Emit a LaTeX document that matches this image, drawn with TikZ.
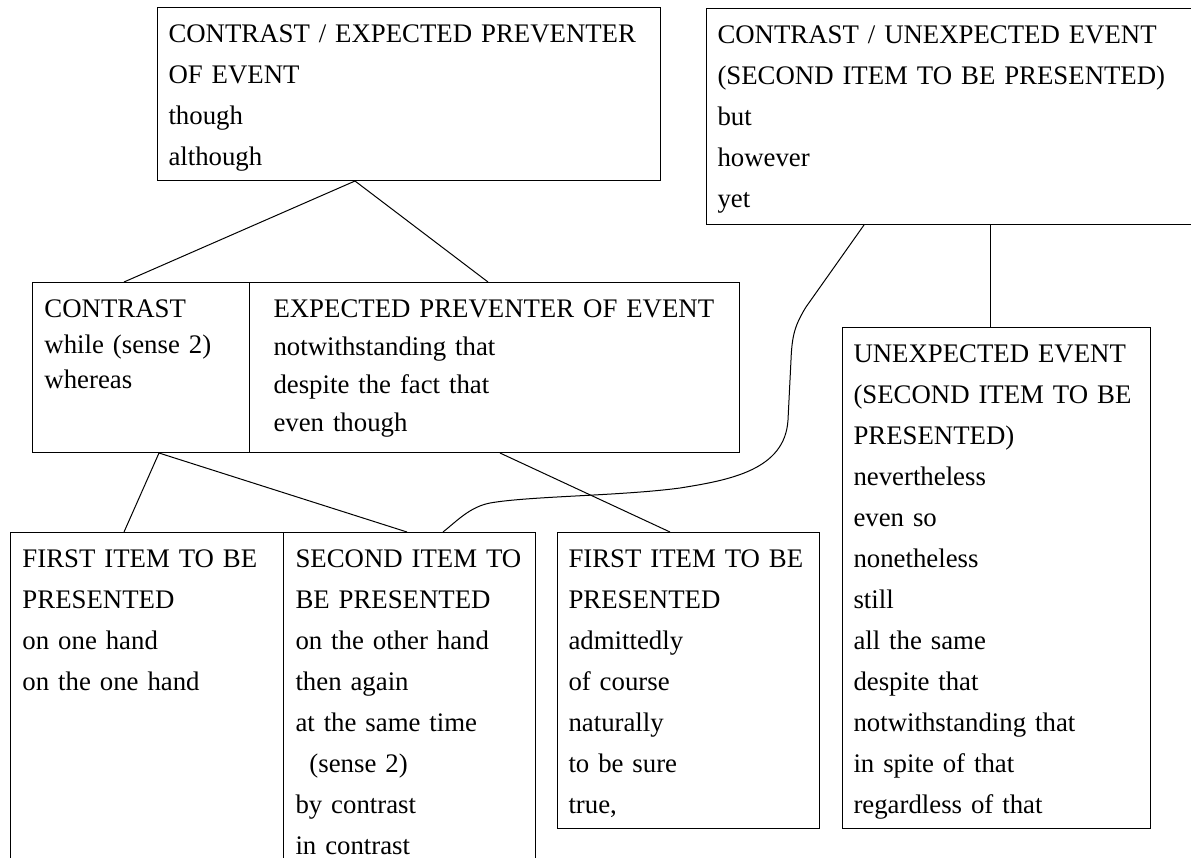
\documentclass[tikz,border=0pt]{standalone}
\usepackage{fontspec}
\setmainfont{Liberation Serif}
\tikzset{
  wbox/.style={draw, line width=0.5pt, anchor=north west, inner sep=0pt,
    font=\fontsize{13.4}{20.5}\selectfont, text height=17.5pt,
    execute at begin node={\leftskip=#1\relax}},
  wbox/.default=5.5pt,
  link/.style={line width=0.5pt}
}
\begin{document}
\begin{tikzpicture}[x=0.5pt,y=-0.5pt]
\useasboundingbox (0,0) rectangle (1191,858);
\clip (0,0) rectangle (1191,858);
\node[wbox,text width=251.5pt,text depth=69pt] (cepe) at (157,7) {CONTRAST / EXPECTED PREVENTER\\OF EVENT\\though\\although};
\node[wbox,text width=247pt,text depth=90.5pt] (cue) at (706,8) {CONTRAST / UNEXPECTED EVENT\\(SECOND ITEM TO BE PRESENTED)\\but\\however\\yet};
\node[wbox=6pt,text width=108.5pt,text depth=67.5pt,font=\fontsize{13.4}{17.75}\selectfont] (contr) at (32,282) {CONTRAST\\while (sense 2)\\whereas};
\node[wbox=12pt,text width=245pt,text depth=67.5pt,font=\fontsize{13.4}{19}\selectfont] (expct) at (249,282) {EXPECTED PREVENTER OF EVENT\\notwithstanding that\\despite the fact that\\even though};
\node[wbox,text width=154pt,text depth=233pt] (unexp) at (842,327) {UNEXPECTED EVENT\\(SECOND ITEM TO BE\\PRESENTED)\\nevertheless\\even so\\nonetheless\\still\\all the same\\despite that\\notwithstanding that\\in spite of that\\regardless of that};
\node[wbox=6pt,text width=136.5pt,text depth=151.5pt] (first) at (10,532) {FIRST ITEM TO BE\\PRESENTED\\on one hand\\on the one hand};
\node[wbox=6pt,text width=126pt,text depth=151.5pt] (second) at (283,532) {SECOND ITEM TO\\BE PRESENTED\\on the other hand\\then again\\at the same time\\\hspace*{7pt}(sense 2)\\by contrast\\in contrast};
\node[wbox,text width=131pt,text depth=130.5pt] (admit) at (557,532) {FIRST ITEM TO BE\\PRESENTED\\admittedly\\of course\\naturally\\to be sure\\true,};
\draw[link] ([xshift=99pt]cepe.south west) -- ([xshift=46pt]contr.north west);
\draw[link] ([xshift=99pt]cepe.south west) -- ([xshift=119.5pt]expct.north west);
\draw[link] ([xshift=63.5pt]contr.south west) -- ([xshift=57pt]first.north west);
\draw[link] ([xshift=63.5pt]contr.south west) -- ([xshift=62pt]second.north west);
\draw[link] ([xshift=125.5pt]expct.south west) -- ([xshift=56.5pt]admit.north west);
\draw[link] ([xshift=142pt]cue.south west) -- ([xshift=74pt]unexp.north west);
\draw[link] ([xshift=79pt]cue.south west) -- (806,307) .. controls (795,325) and (792,335) .. (791,360) -- (788,420) .. controls (785,470) and (730,480) .. (680,488) .. controls (620,496) and (530,496) .. (490,503) .. controls (470,507) and (458,520) .. ([xshift=80pt]second.north west);
\end{tikzpicture}
\end{document}
